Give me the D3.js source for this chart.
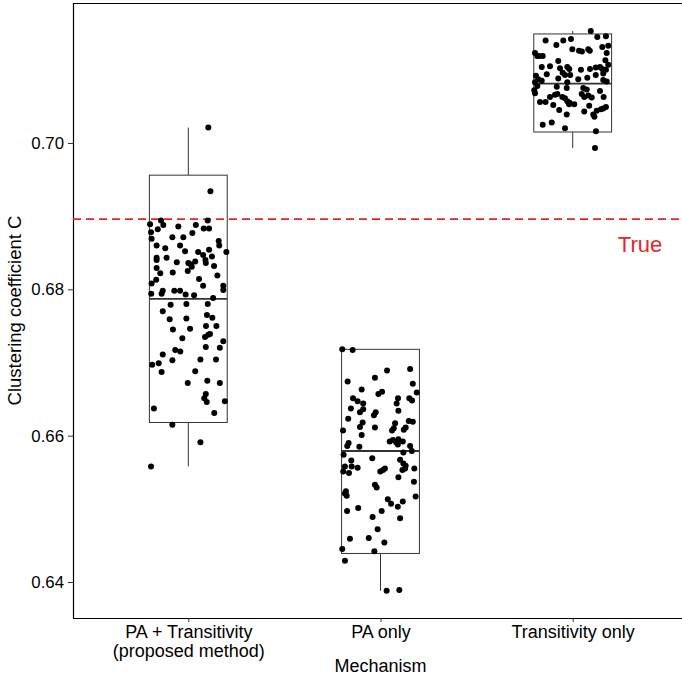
<!DOCTYPE html>
<html>
<head>
<meta charset="utf-8">
<script src="https://cdn.jsdelivr.net/npm/d3@7"></script>
<style>
  html, body { margin: 0; padding: 0; background: #fff; }
  svg { display: block; font-family: "Liberation Sans", Arial, Helvetica, sans-serif; }
</style>
</head>
<body>
<svg id="chart" width="682" height="677"></svg>
<script>
// ---------------- DATA ----------------
const categories = ["PA + Transitivity", "PA only", "Transitivity only"];
const categoryLabelLines = [["PA + Transitivity", "(proposed method)"], ["PA only"], ["Transitivity only"]];
const yTicks = [0.64, 0.66, 0.68, 0.70];
const yTitle = "Clustering coefficient C";
const xTitle = "Mechanism";
const trueValue = 0.6896;
const trueLabel = "True";

// box statistics per category
const lowerWhisker = [0.6558, 0.6388, 0.6993];
const q1 = [0.6618, 0.6439, 0.7015];
const median = [0.6787, 0.6579, 0.7081];
const q3 = [0.6956, 0.6718, 0.7149];
const upperWhisker = [0.7021, 0.6718, 0.7153];

// replicate values (clustering coefficient) and horizontal jitter (fraction of category step)
const valuesPT = [0.7021,0.6934,0.6894,0.6894,0.6889,0.6888,0.6888,0.6886,0.6883,0.6883,0.6882,0.6878,0.6877,0.6871,0.6871,0.6869,0.6866,0.6860,0.6860,0.6860,0.6856,0.6854,0.6852,0.6851,0.6851,0.6847,0.6845,0.6843,0.6843,0.6840,0.6840,0.6838,0.6837,0.6836,0.6836,0.6834,0.6832,0.6831,0.6829,0.6825,0.6823,0.6822,0.6819,0.6814,0.6813,0.6808,0.6805,0.6805,0.6799,0.6798,0.6798,0.6798,0.6794,0.6794,0.6793,0.6792,0.6788,0.6770,0.6779,0.6780,0.6780,0.6765,0.6759,0.6760,0.6761,0.6745,0.6746,0.6750,0.6750,0.6739,0.6738,0.6735,0.6733,0.6729,0.6721,0.6720,0.6717,0.6715,0.6711,0.6703,0.6704,0.6704,0.6699,0.6697,0.6687,0.6688,0.6672,0.6675,0.6672,0.6657,0.6651,0.6646,0.6647,0.6637,0.6631,0.6615,0.6591,0.6558];
const jitterPT = [0.104,0.115,-0.142,0.101,-0.199,-0.130,0.039,-0.052,0.080,0.108,-0.159,-0.194,0.021,-0.083,-0.026,-0.191,0.158,0.161,-0.043,-0.165,-0.120,0.108,-0.017,0.198,0.051,0.077,0.123,-0.165,-0.113,-0.165,0.089,0.036,-0.060,0.000,0.091,0.014,0.134,0.018,-0.165,-0.003,-0.081,-0.146,0.151,0.056,-0.167,-0.191,0.077,0.182,0.182,-0.133,-0.073,-0.043,-0.193,-0.139,-0.014,0.030,0.129,-0.133,-0.092,-0.010,0.101,0.097,-0.097,-0.010,0.125,-0.080,0.009,0.092,0.146,0.113,0.104,0.087,-0.031,0.182,0.091,0.164,-0.068,-0.042,-0.133,-0.083,0.063,0.144,-0.154,-0.188,-0.139,0.036,-0.003,0.099,0.164,0.091,0.083,0.096,0.190,-0.179,0.135,-0.083,0.063,-0.194];

const valuesPA = [0.6718,0.6717,0.6689,0.6691,0.6679,0.6674,0.6671,0.6663,0.6660,0.6657,0.6659,0.6651,0.6647,0.6651,0.6651,0.6648,0.6644,0.6644,0.6637,0.6636,0.6632,0.6634,0.6632,0.6628,0.6623,0.6620,0.6619,0.6618,0.6617,0.6612,0.6611,0.6611,0.6610,0.6608,0.6607,0.6607,0.6601,0.6595,0.6594,0.6592,0.6591,0.6592,0.6590,0.6588,0.6586,0.6585,0.6586,0.6577,0.6579,0.6574,0.6569,0.6566,0.6558,0.6558,0.6556,0.6555,0.6567,0.6562,0.6559,0.6555,0.6555,0.6551,0.6553,0.6553,0.6551,0.6549,0.6543,0.6537,0.6533,0.6529,0.6524,0.6521,0.6518,0.6517,0.6513,0.6507,0.6510,0.6503,0.6501,0.6497,0.6497,0.6489,0.6487,0.6472,0.6459,0.6460,0.6454,0.6445,0.6442,0.6429,0.6388,0.6389];
const jitterPA = [-0.199,-0.145,0.034,0.154,-0.029,-0.171,0.168,-0.098,0.008,-0.011,0.189,-0.143,-0.119,0.091,0.150,0.164,-0.090,0.084,-0.154,-0.090,-0.107,0.093,-0.025,-0.034,-0.168,0.147,0.168,-0.093,0.076,-0.107,-0.029,0.131,0.069,0.121,-0.195,0.060,-0.098,0.093,0.065,0.048,0.081,0.116,-0.166,0.090,-0.173,-0.110,0.154,0.119,0.163,-0.192,-0.043,-0.152,-0.185,-0.150,-0.119,0.023,0.102,0.119,0.131,0.128,0.176,-0.001,0.013,0.114,-0.194,-0.164,0.093,0.174,-0.029,-0.020,-0.180,-0.185,-0.176,0.183,0.038,0.055,0.116,0.090,-0.116,-0.174,0.006,-0.041,0.102,-0.015,-0.159,-0.061,0.020,-0.199,-0.032,-0.185,0.032,0.098];

const valuesT = [0.7153,0.7145,0.7146,0.7142,0.7140,0.7140,0.7134,0.7133,0.7128,0.7126,0.7125,0.7128,0.7126,0.7131,0.7123,0.7119,0.7119,0.7119,0.7123,0.7112,0.7113,0.7104,0.7105,0.7104,0.7103,0.7104,0.7107,0.7102,0.7101,0.7100,0.7101,0.7101,0.7100,0.7096,0.7093,0.7093,0.7095,0.7092,0.7094,0.7088,0.7087,0.7089,0.7093,0.7087,0.7085,0.7083,0.7083,0.7086,0.7084,0.7078,0.7077,0.7075,0.7075,0.7073,0.7072,0.7068,0.7067,0.7071,0.7066,0.7067,0.7063,0.7063,0.7061,0.7063,0.7065,0.7063,0.7057,0.7062,0.7056,0.7056,0.7055,0.7053,0.7053,0.7052,0.7051,0.7045,0.7043,0.7049,0.7047,0.7046,0.7044,0.7039,0.7039,0.7036,0.7028,0.7025,0.7020,0.7016,0.6993];
const jitterT = [0.094,0.128,0.173,-0.009,-0.049,-0.141,-0.085,0.185,-0.002,0.033,0.048,0.081,0.089,0.154,-0.196,-0.184,-0.174,-0.156,0.177,-0.075,0.170,-0.161,-0.118,-0.028,0.120,0.142,0.185,-0.066,-0.018,0.043,0.090,0.154,0.173,-0.052,-0.040,-0.013,0.159,-0.191,-0.135,-0.075,0.029,0.076,0.120,-0.179,-0.161,-0.196,-0.028,0.159,0.177,-0.184,-0.083,-0.031,0.055,0.073,-0.200,-0.196,0.047,0.142,-0.092,-0.080,-0.054,-0.118,-0.040,0.060,0.081,0.161,-0.028,0.099,-0.170,-0.141,-0.016,-0.019,0.008,-0.101,0.086,-0.070,0.060,0.173,0.159,0.147,0.125,0.107,-0.031,0.113,-0.109,-0.156,-0.040,0.121,0.116];

const groupValues = [valuesPT, valuesPA, valuesT];
const groupJitter = [jitterPT, jitterPA, jitterT];

// ---------------- LAYOUT ----------------
const W = 682, H = 677;
const plot = { left: 73, top: 3, right: 688, bottom: 618 };

const svg = d3.select("#chart");

const x = d3.scalePoint().domain(categories).range([plot.left, plot.right]).padding(0.6);
const y = d3.scaleLinear().domain([0.63508, 0.71913]).range([plot.bottom, plot.top]);
const step = x.step();
const boxW = 0.405 * step;

// plot frame (top edge)
svg.append("line").attr("x1", plot.left).attr("x2", W).attr("y1", plot.top + 0.5).attr("y2", plot.top + 0.5)
  .attr("stroke", "#000").attr("stroke-width", 1.2);

// y axis
const yAxis = svg.append("g")
  .attr("transform", `translate(${plot.left},0)`)
  .call(d3.axisLeft(y).tickValues(yTicks).tickFormat(d3.format(".2f")).tickSize(5).tickPadding(4));
yAxis.select(".domain").attr("stroke", "#000").attr("stroke-width", 1.2)
  .attr("d", `M0.5,${plot.top}V${plot.bottom}`);
yAxis.selectAll(".tick line").attr("stroke", "#333");
yAxis.selectAll(".tick text").attr("font-size", 16.8).attr("fill", "#000")
  .attr("font-family", "'Liberation Sans', Arial, sans-serif");

// x axis
const xAxis = svg.append("g")
  .attr("transform", `translate(0,${plot.bottom})`)
  .call(d3.axisBottom(x).tickSize(4).tickFormat(""));
xAxis.select(".domain").attr("stroke", "#000").attr("stroke-width", 1.2)
  .attr("d", `M${plot.left},0.5H${W}`);
xAxis.selectAll(".tick line").attr("stroke", "#333");
xAxis.selectAll(".tick").each(function(d, i) {
  const t = d3.select(this).append("text")
    .attr("fill", "#000").attr("font-size", 18).attr("text-anchor", "middle")
    .attr("font-family", "'Liberation Sans', Arial, sans-serif");
  categoryLabelLines[i].forEach((line, j) => {
    t.append("tspan").attr("x", 0).attr("y", 20 + j * 19).text(line);
  });
});

// titles
svg.append("text").attr("x", x(categories[1])).attr("y", 672)
  .attr("text-anchor", "middle").attr("font-size", 18).attr("fill", "#000").text(xTitle);
svg.append("text").attr("transform", `translate(21,${(plot.top + plot.bottom) / 2}) rotate(-90)`)
  .attr("text-anchor", "middle").attr("font-size", 18.5).attr("fill", "#000").text(yTitle);

// boxplots
const boxes = svg.append("g");
categories.forEach((c, i) => {
  const cx = x(c);
  const g = boxes.append("g");
  g.append("line").attr("x1", cx).attr("x2", cx).attr("y1", y(upperWhisker[i])).attr("y2", y(q3[i]))
    .attr("stroke", "#333").attr("stroke-width", 1);
  g.append("line").attr("x1", cx).attr("x2", cx).attr("y1", y(q1[i])).attr("y2", y(lowerWhisker[i]))
    .attr("stroke", "#333").attr("stroke-width", 1);
  g.append("rect").attr("x", cx - boxW / 2).attr("y", y(q3[i]))
    .attr("width", boxW).attr("height", y(q1[i]) - y(q3[i]))
    .attr("fill", "#fff").attr("stroke", "#333").attr("stroke-width", 1);
  g.append("line").attr("x1", cx - boxW / 2).attr("x2", cx + boxW / 2)
    .attr("y1", y(median[i])).attr("y2", y(median[i]))
    .attr("stroke", "#333").attr("stroke-width", 1.8);
});

// true reference line
svg.append("line").attr("x1", plot.left).attr("x2", W)
  .attr("y1", y(trueValue)).attr("y2", y(trueValue))
  .attr("stroke", "#e4262a").attr("stroke-width", 1.8).attr("stroke-dasharray", "8,5");
svg.append("text").attr("x", 640).attr("y", y(trueValue) + 33)
  .attr("text-anchor", "middle").attr("font-size", 22).attr("fill", "#e4262a").text(trueLabel);

// jittered points
const pts = svg.append("g");
categories.forEach((c, i) => {
  const data = groupValues[i].map((v, k) => ({ v, j: groupJitter[i][k] }));
  pts.selectAll(null).data(data).enter().append("circle")
    .attr("cx", d => x(c) + d.j * step)
    .attr("cy", d => y(d.v))
    .attr("r", 3)
    .attr("fill", "#000");
});
</script>
</body>
</html>
